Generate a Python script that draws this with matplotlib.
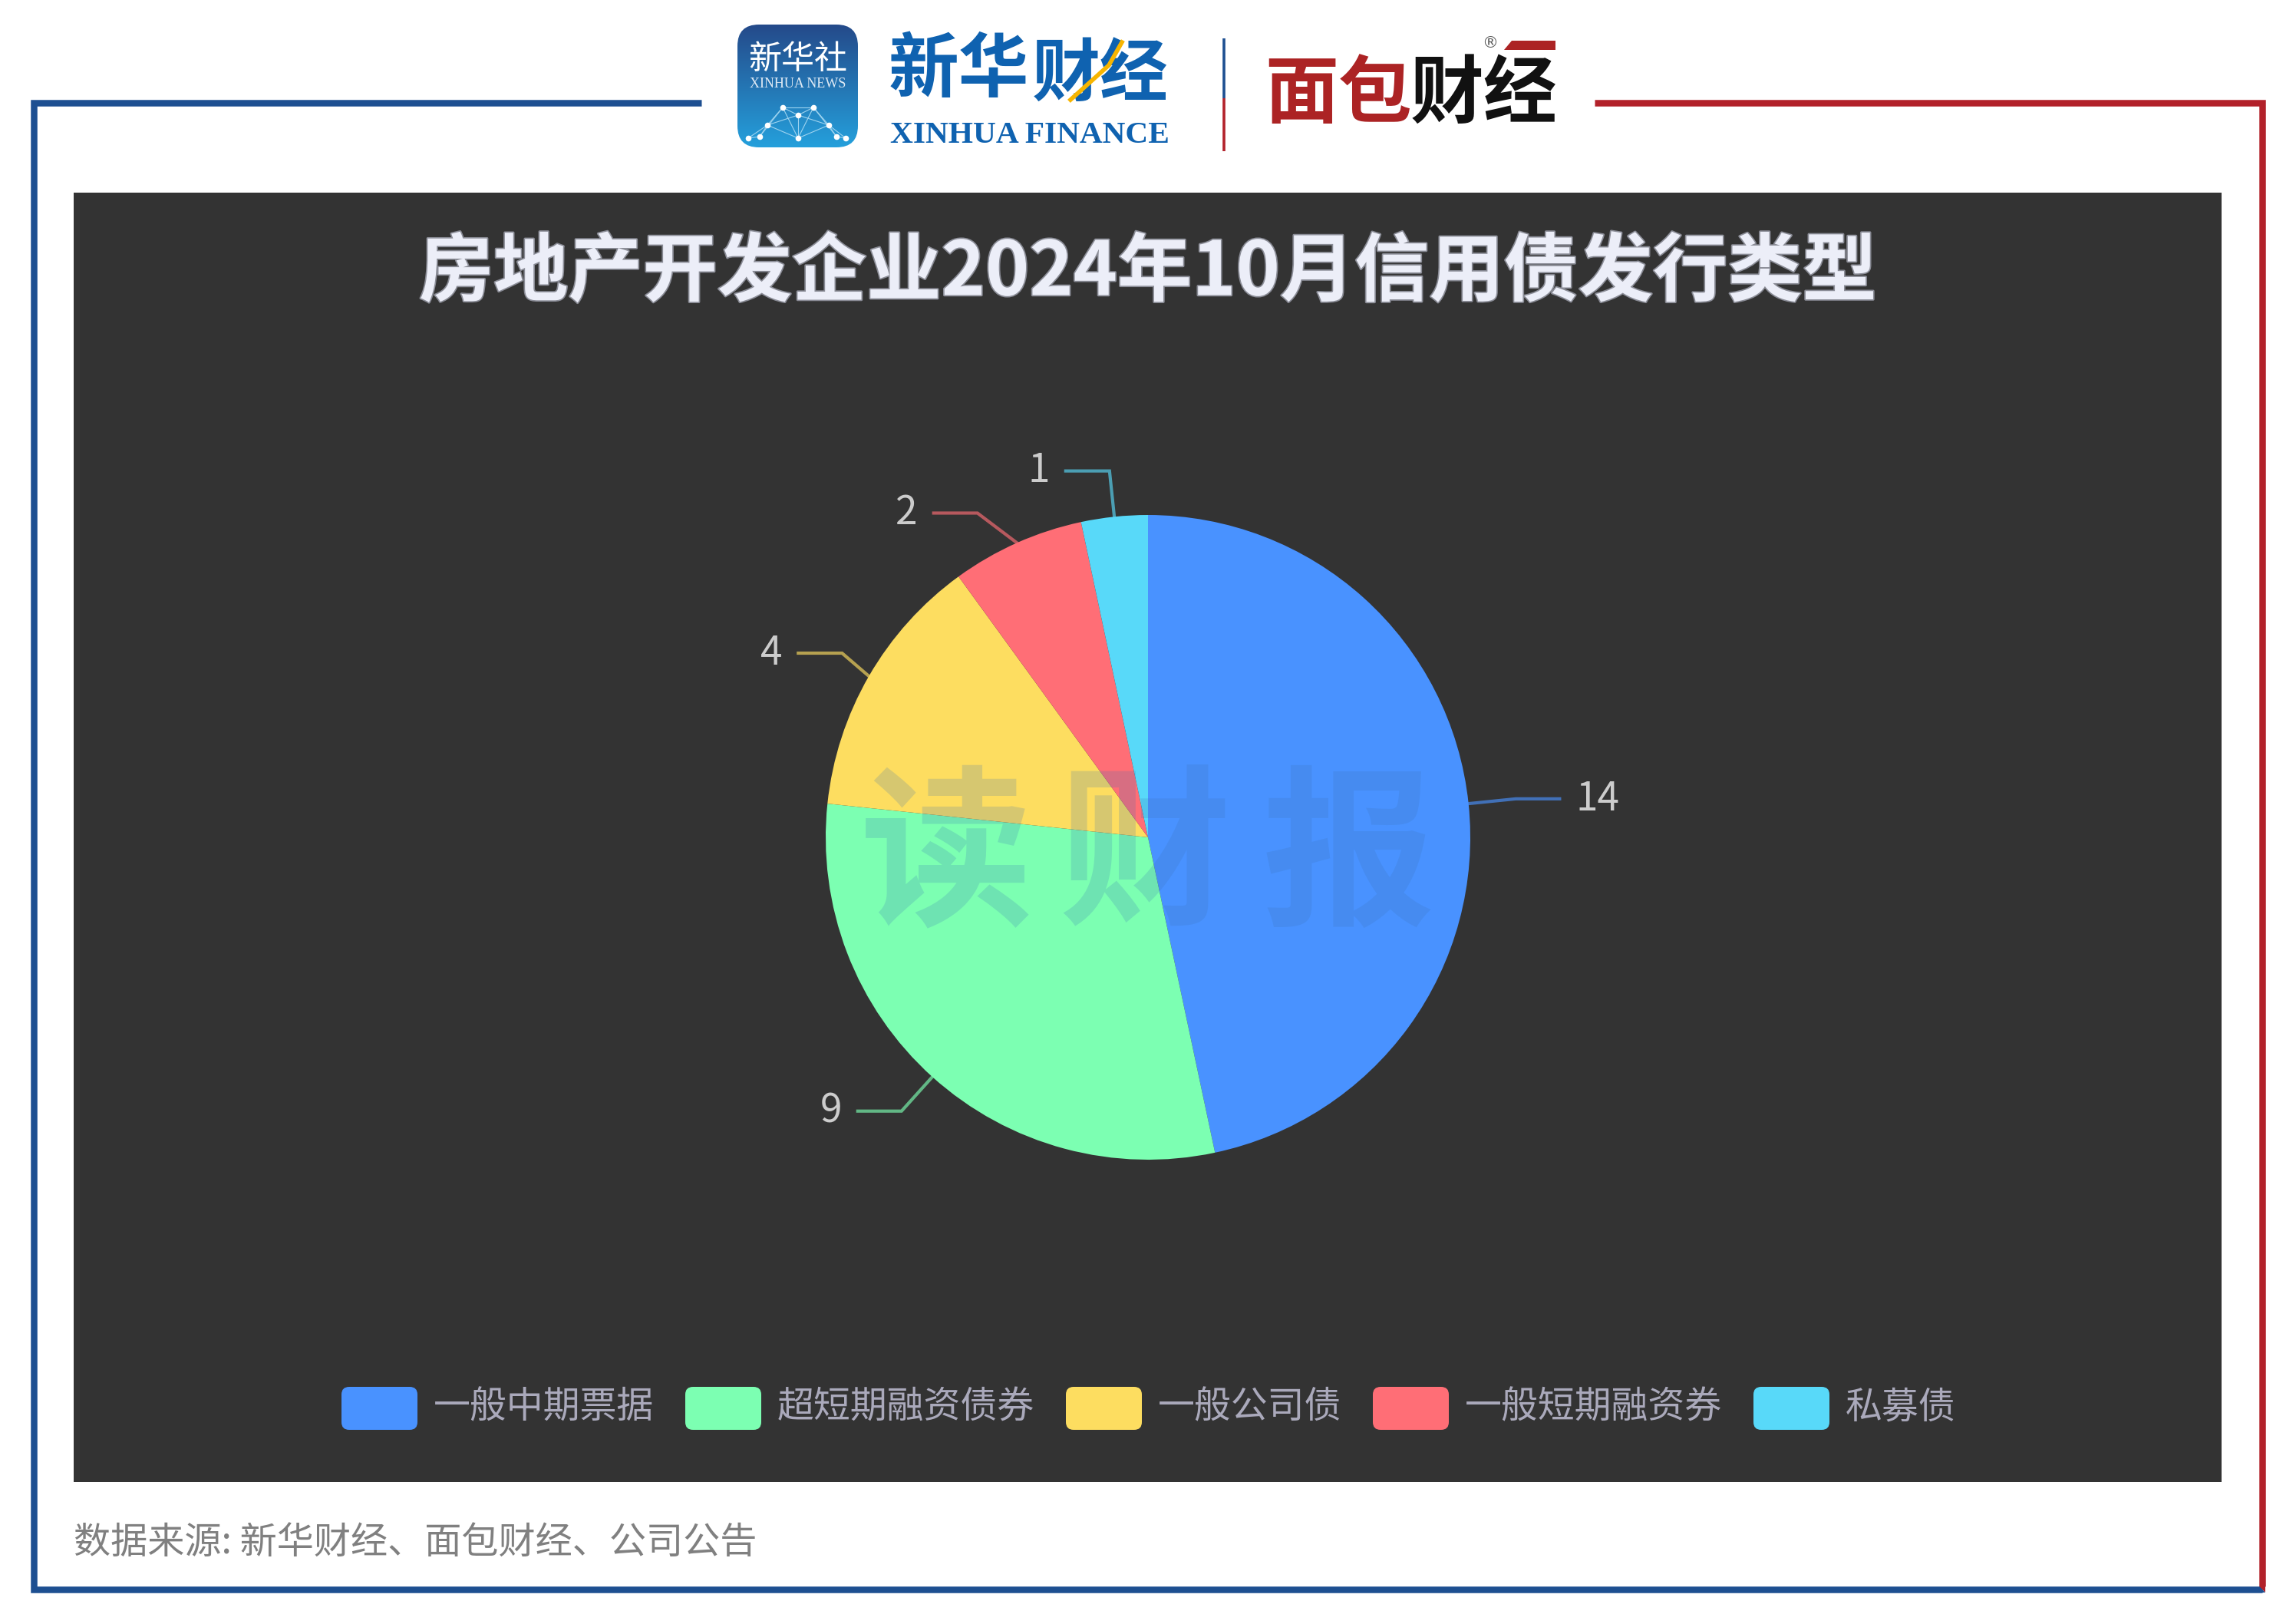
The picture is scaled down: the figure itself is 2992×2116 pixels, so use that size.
import numpy as np
import matplotlib
matplotlib.use("Agg")
import matplotlib.pyplot as plt
import matplotlib.patheffects as pe
from matplotlib.patches import FancyBboxPatch, Rectangle, Polygon

plt.rcParams['font.family'] = ['Noto Sans CJK SC', 'DejaVu Sans']

W, H = 2992, 2116

categories = ['一般中期票据', '超短期融资债券', '一般公司债', '一般短期融资券', '私募债']
values = [14, 9, 4, 2, 1]
colors = ['#4992ff', '#7cffb2', '#fddd60', '#ff6e76', '#58d9f9']
title = '房地产开发企业2024年10月信用债发行类型'
source = '数据来源: 新华财经、面包财经、公司公告'
watermark = ['读', '财', '报']

BLUE = '#1d4f91'
RED = '#b2212a'
PANEL = '#333333'

fig = plt.figure(figsize=(W / 100, H / 100), dpi=100, facecolor='white')
ax = fig.add_axes([0, 0, 1, 1])


def Y(py):
    return H - py


# pie
cx, cy, r = 1496, Y(1091), 420
wedges, _ = ax.pie(values, colors=colors, startangle=90, counterclock=False,
                   center=(cx, cy), radius=r,
                   wedgeprops=dict(linewidth=0, zorder=3))
ax.set_xlim(0, W)
ax.set_ylim(0, H)
ax.set_aspect('equal')
ax.axis('off')

# frame
ax.add_patch(Rectangle((96, Y(1931)), 2799, 1680, fc=PANEL, ec='none', zorder=1))
lw = 8.5 * 0.72
ax.plot([914, 44, 44, 2948], [Y(133.5), Y(133.5), Y(2071), Y(2071)], color=BLUE, lw=lw,
        solid_joinstyle='miter', solid_capstyle='butt', zorder=2)
ax.add_patch(Polygon([(2944, Y(2067)), (2952, Y(2067)), (2952, Y(2075))], fc=RED, ec='none', zorder=2.2))
ax.add_patch(Polygon([(2944, Y(2067)), (2952, Y(2075)), (2944, Y(2075))], fc=BLUE, ec='none', zorder=2.2))
ax.plot([2078, 2948, 2948], [Y(133.5), Y(133.5), Y(2067)], color=RED, lw=lw,
        solid_joinstyle='miter', solid_capstyle='butt', zorder=2)

# leader lines and value labels, placed from each slice's angle;
# the nudges mimic the label-overlap shifting of the original chart
nudge_x = [2, 0, 17, -27, 0]
nudge_y = [0, 0, 0, -16, 0]
total = sum(values)
start = 0.0
for v, col, nx_, ny_ in zip(values, colors, nudge_x, nudge_y):
    mid = np.deg2rad(start + v / total * 180)
    start += v / total * 360
    sx, cxx = np.sin(mid), np.cos(mid)
    p0 = (cx + r * sx, cy + r * cxx)
    p1 = (cx + (r + 60) * sx + nx_, cy + (r + 60) * cxx + ny_)
    d = 1 if sx >= 0 else -1
    p2 = (p1[0] + d * 57, p1[1])
    ax.plot([p0[0], p1[0], p2[0]], [p0[1], p1[1], p2[1]], color=col, alpha=0.65,
            lw=3.0, zorder=2.5, solid_joinstyle='miter')
    ax.text(p2[0] + d * 21, p2[1], str(v), color='#cccccc', fontsize=37,
            ha='left' if d > 0 else 'right', va='center', zorder=4)

# title
ax.text(1496, Y(356), title, color='#eceef8', fontsize=70, fontweight='bold',
        ha='center', va='center', zorder=4,
        path_effects=[pe.withStroke(linewidth=2.5, foreground='#8a8c96')])

# legend, laid out left to right
x = 445
for name, col in zip(categories, colors):
    ax.add_patch(FancyBboxPatch((x + 10, Y(1863) + 10), 79, 36,
                                boxstyle='round,pad=10,rounding_size=10',
                                fc=col, ec='none', zorder=4))
    ax.text(x + 120, Y(1834), name, color='#aaa9bb', fontsize=34.5, ha='left', va='center', zorder=4)
    x += 120 + 48 * len(name) + 40

# watermark
for ch, wx in zip(watermark, [1233, 1492, 1757]):
    ax.text(wx, Y(1122), ch, color=(58 / 255, 115 / 255, 180 / 255), alpha=0.2, fontsize=162,
            fontweight='black', ha='center', va='center', zorder=6)

# source
ax.text(96, Y(2010), source, color='#808080', fontsize=34.7, ha='left', va='center', zorder=4)

# Xinhua news badge
grad = np.linspace(0, 1, 256)[:, None]
c0, c1 = np.array([0x24, 0x4a, 0x8a]) / 255, np.array([0x25, 0xa0, 0xdc]) / 255
img = (c0[None, None, :] * (1 - grad[..., None]) + c1[None, None, :] * grad[..., None])
im = ax.imshow(img, extent=(961, 1118, Y(192), Y(32)), aspect='auto', zorder=3)
clip = FancyBboxPatch((981, Y(192) + 20), 117, 120, boxstyle='round,pad=20,rounding_size=28',
                      fc='none', ec='none', transform=ax.transData)
ax.add_patch(clip)
im.set_clip_path(clip)
ax.set_xlim(0, W)
ax.set_ylim(0, H)
ax.text(1040, Y(78), '新华社', color='white', fontsize=31, ha='center', va='center', zorder=4)
ax.text(1040, Y(110), 'XINHUA NEWS', color='#dfeaf5', fontsize=13, family='Liberation Serif',
        ha='center', va='center', zorder=4)
nx = np.array([975, 1000, 1020, 1040, 1060, 1080, 1102, 1040, 990, 1090])
ny = np.array([180, 163, 140, 150, 140, 163, 180, 180, 178, 178])
for i in range(len(nx)):
    for j in range(i + 1, len(nx)):
        if np.hypot(nx[i] - nx[j], ny[i] - ny[j]) < 50:
            ax.plot([nx[i], nx[j]], [Y(ny[i]), Y(ny[j])], color='#9fd4f0', lw=0.8, zorder=4)
ax.scatter(nx, Y(ny), s=30, color='white', zorder=5, linewidths=0)

# Xinhua finance wordmark
ax.text(1158, Y(92), '新华', color='#0f62b0', fontsize=66, fontweight='bold', ha='left', va='center', zorder=4)
ax.text(1345, Y(98), '财经', color='#0f62b0', fontsize=64, fontweight='bold', ha='left', va='center', zorder=4)
ax.plot([1395, 1445, 1462], [Y(130), Y(85), Y(55)], color='#f7b500', lw=4, zorder=5)
ax.text(1342, Y(177), 'XINHUA FINANCE', color='#0f62b0', fontsize=29.8, fontweight='bold',
        family='Liberation Serif', ha='center', va='center', zorder=4)

# separator
ax.plot([1595, 1595], [Y(50), Y(128)], color=BLUE, lw=2.6, solid_capstyle='butt')
ax.plot([1595, 1595], [Y(128), Y(197)], color=RED, lw=2.6, solid_capstyle='butt')

# Mianbao wordmark
ax.text(1648, Y(124), '面包', color='#ac2324', fontsize=69, fontweight='bold', ha='left', va='center', zorder=4)
ax.text(1838, Y(124), '财经', color='#111111', fontsize=69, fontweight='bold', ha='left', va='center', zorder=4)
ax.add_patch(Polygon([(1970, Y(53)), (2027, Y(53)), (2027, Y(65)), (1960, Y(65))], fc='#ac2324', ec='none', zorder=4))
ax.text(1942, Y(56), '®', color='#555555', fontsize=15, family='DejaVu Sans', ha='center', va='center', zorder=4)

fig.savefig('out.png', dpi=100, facecolor='white')
